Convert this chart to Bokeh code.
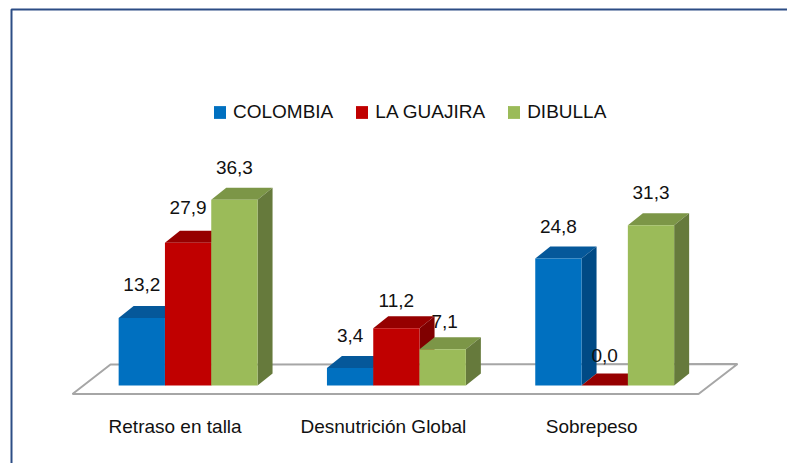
from bokeh.plotting import figure
from bokeh.models import FixedTicker, Legend, LegendItem, BoxAnnotation, Range1d
from bokeh.core.properties import value
from bokeh.embed import file_html
from bokeh.resources import INLINE

categories = ["Retraso en talla", "Desnutrición Global", "Sobrepeso"]
colombia = [13.2, 3.4, 24.8]
la_guajira = [27.9, 11.2, 0.0]
dibulla = [36.3, 7.1, 31.3]
series_names = ["COLOMBIA", "LA GUAJIRA", "DIBULLA"]
front_colors = ["#0070C0", "#C00000", "#9BBB59"]
top_colors = ["#05589A", "#960000", "#7C9647"]
side_colors = ["#004A85", "#800000", "#667A3C"]
fmt = lambda v: f"{v:.1f}".replace(".", ",")

W, H = 787, 463
PX_PER_CAT, PX_PER_UNIT = 208.3, 5.12
X0_PAGE, BASE_PAGE = 187.6 - 0.5 * PX_PER_CAT, 385   # page position of x=0 / y=0
BAR_W = 46.3 / PX_PER_CAT
DX, DY = 15 / PX_PER_CAT, 12 / PX_PER_UNIT
LABEL_SHIFT = 13 / PX_PER_CAT

xr = Range1d(-X0_PAGE / PX_PER_CAT, (W - X0_PAGE) / PX_PER_CAT)
yr = Range1d((BASE_PAGE - H) / PX_PER_UNIT, BASE_PAGE / PX_PER_UNIT)

p = figure(width=W, height=H, x_range=xr, y_range=yr, output_backend="svg", toolbar_location=None,
           min_border_left=0, min_border_right=0, min_border_top=0, min_border_bottom=0)
p.outline_line_color = None
p.grid.visible = False
p.yaxis.visible = False


def px_x(px):
    return (px - X0_PAGE) / PX_PER_CAT


def px_y(px):
    return (BASE_PAGE - px) / PX_PER_UNIT


ax = p.xaxis[0]
ticks = [i + 0.5 - LABEL_SHIFT for i in range(3)]
ax.ticker = FixedTicker(ticks=ticks)
ax.major_label_overrides = dict(zip(ticks, categories))
ax.fixed_location = px_y(395)
ax.axis_line_color = None
ax.major_tick_line_color = None
ax.minor_tick_line_color = None
ax.major_label_standoff = 14
ax.major_label_text_font = "Liberation Sans"
ax.major_label_text_font_size = "19px"
ax.major_label_text_color = "#111111"

# floor
p.patch([px_x(72), px_x(110), px_x(737), px_x(698)], [px_y(393.5), px_y(364), px_y(363.5), px_y(393.5)],
        fill_color="white", line_color="#A6A6A6", line_width=2)

legend_items = []
for s, vals in enumerate([colombia, la_guajira, dibulla]):
    centers = [i + 0.5 + (s - 1) * BAR_W for i in range(3)]
    lefts = [c - BAR_W / 2 for c in centers]
    rights = [c + BAR_W / 2 for c in centers]
    p.patches([[l, r, r + DX, l + DX] for l, r in zip(lefts, rights)],
              [[v, v, v + DY, v + DY] for v in vals],
              fill_color=top_colors[s], line_color=None)
    p.patches([[r, r + DX, r + DX, r] for r in rights],
              [[0, DY, v + DY, v] for v in vals],
              fill_color=side_colors[s], line_color=None)
    front = p.vbar(x=centers, top=vals, bottom=0, width=BAR_W, fill_color=front_colors[s], line_color=None)
    legend_items.append(LegendItem(label=series_names[s], renderers=[front]))

# data labels
label_dx = [[0, 0, 0], [0, 0, 0], [0, 2, 0]]
label_dy = [[33, 33, 32], [35, 28, 30], [32, 28, 33]]
lx, ly, lt = [], [], []
for s, vals in enumerate([colombia, la_guajira, dibulla]):
    for i, v in enumerate(vals):
        lx.append(i + 0.5 + (s - 1) * BAR_W + label_dx[s][i] / PX_PER_CAT)
        ly.append(v + label_dy[s][i] / PX_PER_UNIT)
        lt.append(fmt(v))
p.text(x=lx, y=ly, text=lt, text_font=value("Liberation Sans"), text_font_size="19px",
       text_align="center", text_baseline="middle", text_color="#111111")

legend = Legend(items=legend_items, orientation="horizontal", location=(212, 340),
                glyph_width=15, glyph_height=16, label_standoff=6, spacing=21, padding=0, margin=0,
                border_line_color=None, background_fill_alpha=0,
                label_text_font="Liberation Sans", label_text_font_size="19px", label_text_color="#111111")
p.add_layout(legend)

p.add_layout(BoxAnnotation(left=11, right=W + 20, top=9, bottom=H + 20,
                           left_units="canvas", right_units="canvas", top_units="canvas", bottom_units="canvas",
                           fill_alpha=0, line_color="#2C4D85", line_alpha=1, line_width=2))

open("out.html", "w").write(file_html(p, INLINE))
